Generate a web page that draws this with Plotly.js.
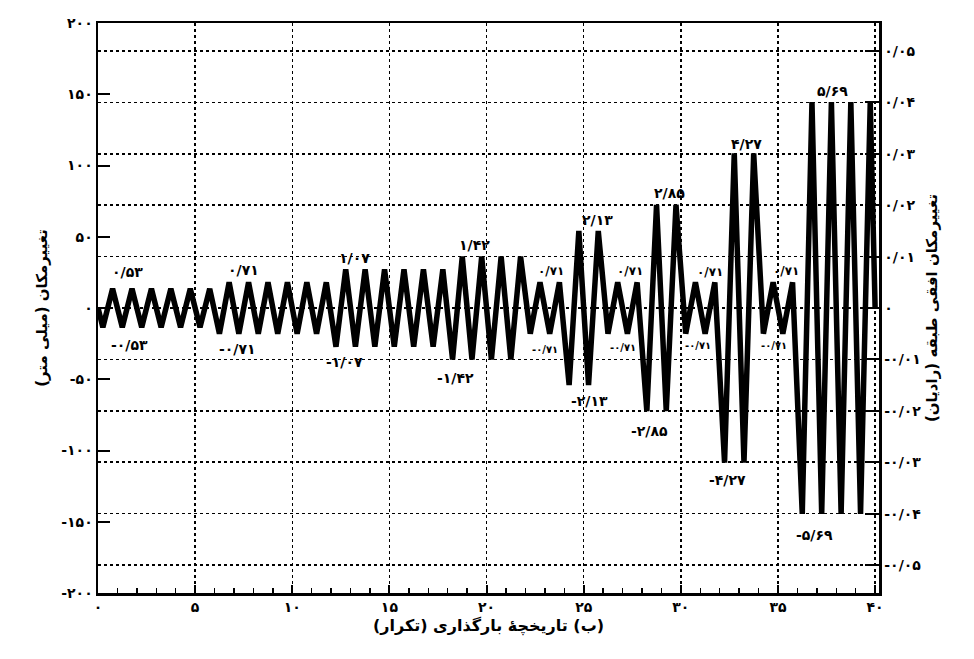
<!DOCTYPE html>
<html>
<head>
<meta charset="utf-8">
<script src="https://cdn.plot.ly/plotly-3.0.1.min.js"></script>
<style>
html,body{margin:0;padding:0;background:#fff;}
#chart{width:974px;height:659px;}
</style>
</head>
<body>
<div id="chart"></div>
<script>
// ---- data ----
// amplitude of each loading group (mm) and number of cycles in that group
const groupAmpMM  = [13.5, 18.0, 27.2, 36.1, 18.0, 54.1, 18.0, 72.4, 18.0, 108.5, 18.0, 144.5];
const groupCycles = [6, 6, 6, 4, 2, 2, 2, 2, 2, 2, 2, 4];

// peak labels (as printed)
const labelText = ['۰/۵۳','-۰/۵۳','۰/۷۱','-۰/۷۱','۱/۰۷','-۱/۰۷','۱/۴۲','-۱/۴۲',
                   '۰/۷۱','-۰/۷۱','۲/۱۳','-۲/۱۳','۰/۷۱','-۰/۷۱','۲/۸۵','-۲/۸۵',
                   '۰/۷۱','-۰/۷۱','۴/۲۷','-۴/۲۷','۰/۷۱','-۰/۷۱','۵/۶۹','-۵/۶۹'];

// tick labels
const xTickVals = [0,5,10,15,20,25,30,35,40];
const xTickText = ['۰','۵','۱۰','۱۵','۲۰','۲۵','۳۰','۳۵','۴۰'];
const yTickVals = [-200,-150,-100,-50,0,50,100,150,200];
const yTickText = ['-۲۰۰','-۱۵۰','-۱۰۰','-۵۰','۰','۵۰','۱۰۰','۱۵۰','۲۰۰'];
const y2TickVals = [-0.05,-0.04,-0.03,-0.02,-0.01,0,0.01,0.02,0.03,0.04,0.05];
const y2TickText = ['-۰/۰۵','-۰/۰۴','-۰/۰۳','-۰/۰۲','-۰/۰۱','۰','۰/۰۱','۰/۰۲','۰/۰۳','۰/۰۴','۰/۰۵'];

// ---- build zigzag loading history from the groups ----
const xs = [0], ys = [0];
let c = 0;
for (let g = 0; g < groupAmpMM.length; g++) {
  for (let k = 0; k < groupCycles[g]; k++) {
    xs.push(c + 0.25); ys.push(-groupAmpMM[g]);
    xs.push(c + 0.75); ys.push(groupAmpMM[g]);
    c += 1;
  }
}
xs.push(c); ys.push(0);

// ---- label placement (layout) ----
const labelX = [1.5,1.6,7.5,7.2,13.2,12.7,19.4,18.4,
                23.3,23.0,25.7,25.3,27.4,27.0,29.4,28.4,
                31.5,30.9,33.4,32.4,35.4,34.8,37.8,36.9];
const labelY = [25,-26,27,-29,35,-38,44,-49,
                26,-29,62,-65,26,-28,81,-86,
                25,-26,115,-121,26,-26,152,-159];
const labelSize = [14,14,14,14,14,14,14,14,
                   12,10,14,14,12,10,14,14,
                   12,10,14,14,12,10,14,14];

const FONT = 'DejaVu Sans';
const RLM = '\u200F';

const annotations = labelText.map((t, i) => ({
  x: labelX[i], y: labelY[i], xref: 'x', yref: 'y',
  text: t, showarrow: false,
  font: {family: FONT, size: labelSize[i], color: '#000', weight: 'bold'}
}));

const mmPerRad = 36.07 / 0.01;
const yRange = [-200, 200];

const traces = [
  {x: xs, y: ys, type: 'scatter', mode: 'lines',
   line: {color: '#000', width: 5.5}, hoverinfo: 'skip', showlegend: false},
  {x: [null], y: [null], yaxis: 'y2', type: 'scatter', mode: 'lines',
   hoverinfo: 'skip', showlegend: false}
];

const layout = {
  width: 974, height: 659,
  margin: {l: 98, r: 95, t: 23, b: 66},
  paper_bgcolor: '#fff', plot_bgcolor: '#fff',
  showlegend: false,
  font: {family: FONT, color: '#000'},
  xaxis: {
    range: [0, 40.2],
    tickvals: xTickVals, ticktext: xTickText,
    ticks: 'inside', ticklen: 8, tickwidth: 2, tickcolor: '#000',
    minor: {dtick: 1, ticks: 'inside', ticklen: 5, tickwidth: 1.5, tickcolor: '#000', showgrid: false},
    showgrid: true, gridcolor: '#000', gridwidth: 1.5, griddash: 'dot',
    showline: true, linecolor: '#000', linewidth: 2.5, mirror: true,
    zeroline: false,
    tickfont: {family: FONT, size: 14, weight: 'bold'},
    title: {text: RLM + '(ب) تاریخچهٔ بارگذاری (تکرار)' + RLM,
            font: {family: FONT, size: 16, weight: 'bold'}, standoff: 6}
  },
  yaxis: {
    range: yRange,
    tickvals: yTickVals, ticktext: yTickText,
    ticks: 'inside', ticklen: 12, tickwidth: 2, tickcolor: '#000',
    showgrid: false, zeroline: false,
    showline: true, linecolor: '#000', linewidth: 2.5,
    tickfont: {family: FONT, size: 14, weight: 'bold'},
    title: {text: 'تغییرمکان (میلی متر)' + RLM,
            font: {family: FONT, size: 15, weight: 'bold'}, standoff: 10}
  },
  yaxis2: {
    overlaying: 'y', side: 'right',
    range: [yRange[0] / mmPerRad, yRange[1] / mmPerRad],
    tickvals: y2TickVals, ticktext: y2TickText,
    ticks: 'inside', ticklen: 14, tickwidth: 2, tickcolor: '#000',
    showgrid: true, gridcolor: '#000', gridwidth: 1.5, griddash: 'dot',
    zeroline: false,
    showline: true, linecolor: '#000', linewidth: 2.5,
    tickfont: {family: FONT, size: 14, weight: 'bold'},
    title: {text: 'تغییرمکان افقی طبقه (رادیان)' + RLM,
            font: {family: FONT, size: 15, weight: 'bold'}, standoff: 6}
  },
  annotations: annotations
};

Plotly.newPlot('chart', traces, layout, {displayModeBar: false, staticPlot: true});
</script>
</body>
</html>
